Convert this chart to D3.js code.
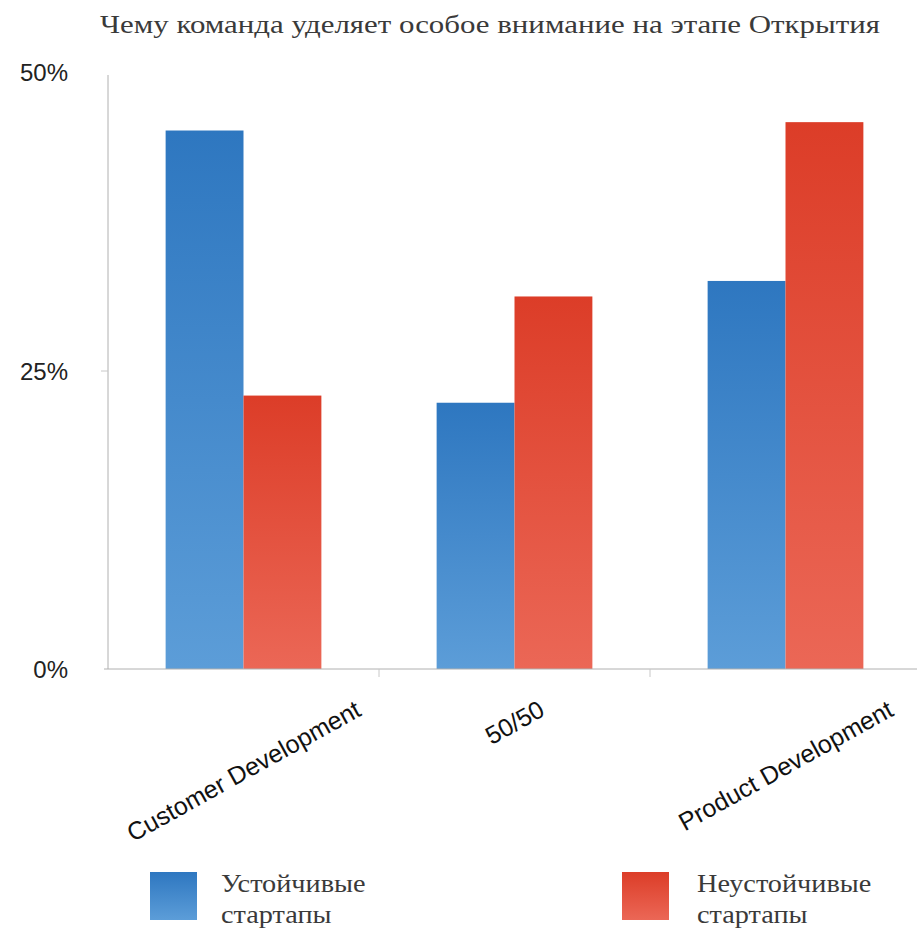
<!DOCTYPE html>
<html>
<head>
<meta charset="utf-8">
<script src="https://cdn.jsdelivr.net/npm/d3@7"></script>
<style>
  body { margin: 0; background: #fff; }
  svg { display: block; }
</style>
</head>
<body>
<div id="chart"></div>
<script>
/* DATA */
const categories = ["Customer Development", "50/50", "Product Development"];
const seriesNames = ["Устойчивые стартапы", "Неустойчивые стартапы"];
const stable = [45.1, 22.3, 32.5];    // устойчивые
const unstable = [22.9, 31.2, 45.8];  // неустойчивые
const yTicks = [0, 25, 50];

/* CONSTANTS */
const width = 917,
  height = 932,
  margin = { top: 72, bottom: 263, left: 108, right: -4 };
const serif = "'Liberation Serif', 'DejaVu Serif', serif";
const sans = "'Liberation Sans', Arial, sans-serif";

const svg = d3.select("#chart")
  .append("svg")
  .attr("width", width)
  .attr("height", height);

// gradients for the bars
const defs = svg.append("defs");
const grads = [
  { id: "gBlue", top: "#2e77c0", bottom: "#5c9dd8" },
  { id: "gRed", top: "#dc3d28", bottom: "#eb6756" }
];
grads.forEach(g => {
  const lg = defs.append("linearGradient")
    .attr("id", g.id)
    .attr("x1", 0).attr("y1", 0).attr("x2", 0).attr("y2", 1);
  lg.append("stop").attr("offset", "0%").attr("stop-color", g.top);
  lg.append("stop").attr("offset", "100%").attr("stop-color", g.bottom);
});

/* SCALES */
const x0 = d3.scaleBand()
  .domain(categories)
  .range([margin.left, width - margin.right])
  .padding(0);

const x1 = d3.scaleBand()
  .domain(seriesNames)
  .range([0, x0.bandwidth()])
  .paddingInner(0)
  .paddingOuter(0.74);

const y = d3.scaleLinear()
  .domain([0, 50])
  .range([height - margin.bottom, margin.top]);

/* TITLE */
// the original uses a wide book serif, so the glyphs get stretched a bit
svg.append("text")
  .attr("x", 100)
  .attr("y", 33)
  .attr("font-family", serif)
  .attr("font-size", 25)
  .attr("fill", "#3a3a3a")
  .attr("textLength", 780)
  .attr("lengthAdjust", "spacingAndGlyphs")
  .text("Чему команда уделяет особое внимание на этапе Открытия");

/* BARS */
const rows = categories.map((c, i) => ({ cat: c, values: [stable[i], unstable[i]] }));

const groups = svg.selectAll("g.grp")
  .data(rows)
  .join("g")
  .attr("class", "grp")
  .attr("transform", d => `translate(${x0(d.cat)},0)`);

groups.selectAll("rect")
  .data(d => d.values.map((v, j) => ({ key: seriesNames[j], v: v, j: j })))
  .join("rect")
  .attr("x", d => x1(d.key))
  .attr("width", x1.bandwidth())
  .attr("y", d => y(d.v))
  .attr("height", d => y(0) - y(d.v))
  .attr("fill", d => d.j === 0 ? "url(#gBlue)" : "url(#gRed)");

/* AXES */
const yAxis = d3.axisLeft(y).tickValues(yTicks).tickSize(7).tickFormat("");
const gy = svg.append("g")
  .attr("transform", `translate(${margin.left},0)`)
  .call(yAxis);
gy.select(".domain").attr("stroke", "#b0b0b0").attr("d", `M0,${y(50) + 3}V${y(0)}`);
gy.selectAll(".tick line").attr("stroke", "#c8c8c8")
  .attr("opacity", d => d === 25 ? 1 : 0);

// y tick labels
svg.selectAll("text.ylab")
  .data(yTicks)
  .join("text")
  .attr("class", "ylab")
  .attr("x", 68)
  .attr("y", d => y(d) + 9)
  .attr("text-anchor", "end")
  .attr("font-family", sans)
  .attr("font-size", 24)
  .attr("fill", "#222")
  .text(d => d + "%");

// x axis line with ticks at category boundaries
const xAxis = d3.axisBottom(x0).tickSize(0).tickFormat("");
const gx = svg.append("g")
  .attr("transform", `translate(0,${y(0)})`)
  .call(xAxis);
gx.select(".domain").attr("stroke", "#b0b0b0").attr("d", `M${margin.left - 4},0H${width}`);

svg.selectAll("line.sep")
  .data(categories.slice(1))
  .join("line")
  .attr("class", "sep")
  .attr("x1", d => x0(d)).attr("x2", d => x0(d))
  .attr("y1", y(0)).attr("y2", y(0) + 8)
  .attr("stroke", "#c8c8c8");

// rotated category labels, centred on the band, top edge kept on one line
const angle = 29;
svg.selectAll("text.xlab")
  .data(categories)
  .join("text")
  .attr("class", "xlab")
  .attr("text-anchor", "middle")
  .attr("font-family", sans)
  .attr("font-size", 25)
  .attr("fill", "#111")
  .text(d => d)
  .each(function(d) {
    const len = this.getComputedTextLength();
    const cx = x0(d) + x0.bandwidth() / 2;
    const cy = 707 + (len / 2) * Math.sin(angle * Math.PI / 180);
    d3.select(this)
      .attr("transform", `translate(${cx},${cy}) rotate(${-angle})`)
      .attr("x", 0).attr("y", 9);
  });

/* LEGEND */
const legendPos = [{ x: 150, tx: 221 }, { x: 622, tx: 697 }];
const legend = svg.selectAll("g.leg")
  .data(seriesNames)
  .join("g")
  .attr("class", "leg");

legend.append("rect")
  .attr("x", (d, i) => legendPos[i].x)
  .attr("y", 872)
  .attr("width", 47)
  .attr("height", 48)
  .attr("fill", (d, i) => i === 0 ? "url(#gBlue)" : "url(#gRed)");

legend.append("text")
  .attr("x", (d, i) => legendPos[i].tx)
  .attr("y", 892)
  .attr("font-family", serif)
  .attr("font-size", 25)
  .attr("fill", "#3a3a3a")
  .selectAll("tspan")
  .data(d => d.split(" "))
  .join("tspan")
  .attr("x", function() { return d3.select(this.parentNode).attr("x"); })
  .attr("dy", (d, i) => i === 0 ? 0 : 31)
  .text(d => d)
  .each(function() {
    // same widening as the title
    const len = this.getComputedTextLength();
    d3.select(this)
      .attr("textLength", len * 1.13)
      .attr("lengthAdjust", "spacingAndGlyphs");
  });
</script>
</body>
</html>
